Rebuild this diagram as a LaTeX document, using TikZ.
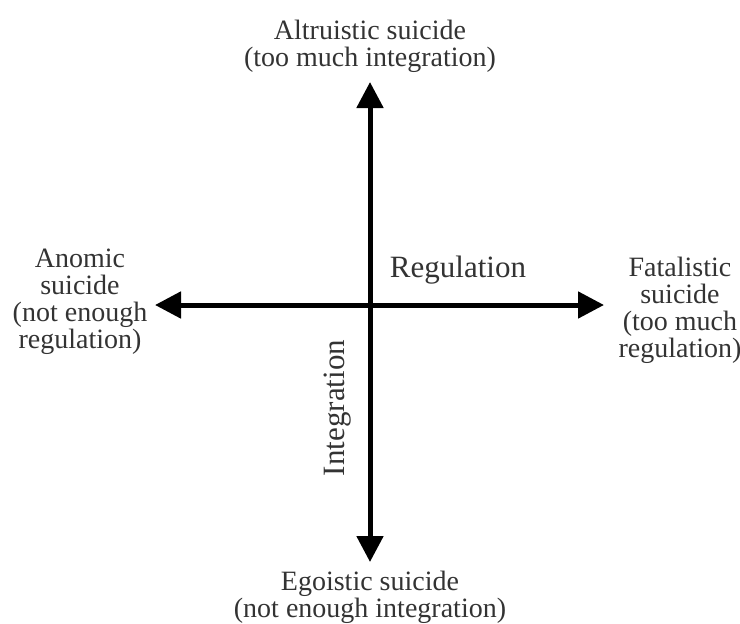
\documentclass[tikz,border=0pt]{standalone}
\usepackage{fontspec}
\setmainfont{Liberation Serif}
\usetikzlibrary{arrows.meta}
\begin{document}
\begin{tikzpicture}[x=1pt,y=-1pt,
  lbl/.style={align=center,inner sep=0pt,font=\fontsize{28}{27}\selectfont,text=black!80},
  axlbl/.style={lbl,font=\fontsize{31}{30}\selectfont},
  axis/.style={line width=5pt,{Triangle[length=26pt,width=26pt]}-{Triangle[length=26pt,width=26pt]}}]
\useasboundingbox (0,0) rectangle (740,624);
\coordinate (top) at (370,82);
\coordinate (bot) at (370,562);
\coordinate (lft) at (155,305);
\coordinate (rgt) at (604,305);
\draw[axis] (bot) -- (top);
\draw[axis] (lft) -- (rgt);
\node[lbl] (alt) at (370,46) {Altruistic suicide\\(too much integration)};
\node[lbl] (ego) at (370,597) {Egoistic suicide\\(not enough integration)};
\node[lbl] (ano) at (80,302) {Anomic\\suicide\\(not enough\\regulation)};
\node[lbl] (fat) at (680,310) {Fatalistic\\suicide\\(too much\\regulation)};
\node[axlbl] (reg) at (458,270) {Regulation};
\node[axlbl,rotate=90] (int) at (338,408) {Integration};
\end{tikzpicture}
\end{document}
